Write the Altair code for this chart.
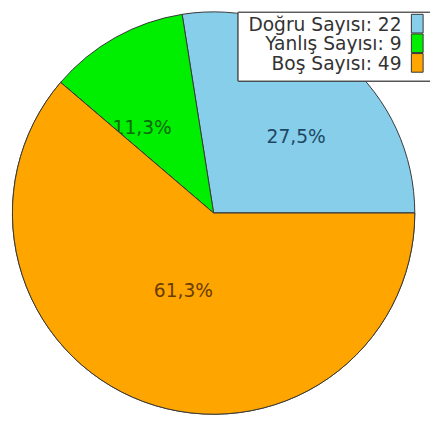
import math
import pandas as pd
import altair as alt

# ---- data ----
categories = ["Doğru Sayısı", "Yanlış Sayısı", "Boş Sayısı"]
counts = [22, 9, 49]
slice_colors = ["#87CEEB", "#00EE00", "#FFA500"]
label_colors = ["#1d4863", "#0c6a0c", "#6a3c00"]

total = sum(counts)


def pct_label(v):
    p = math.floor(v * 1000 / total + 0.5) / 10
    return f"{p:.1f}".replace(".", ",") + "%"


df = pd.DataFrame({
    "cat": categories,
    "value": counts,
    "idx": list(range(len(categories))),
    "pct": [pct_label(v) for v in counts],
    "legend": [f"{c}: {v}" for c, v in zip(categories, counts)],
})

FONT = "DejaVu Sans"
CX, CY, R = 209.5, 205, 205

theta = alt.Theta("value:Q", stack=True,
                  scale=alt.Scale(range=[math.pi / 2, math.pi / 2 + 2 * math.pi]))
order = alt.Order("idx:Q", sort="descending")
color_scale = alt.Scale(domain=categories, range=slice_colors)
label_scale = alt.Scale(domain=categories, range=label_colors)

base = alt.Chart(df).encode(theta=theta, order=order,
                            x=alt.value(CX), y=alt.value(CY))

arcs = base.mark_arc(radius=R, stroke="#383838", strokeWidth=1).encode(
    color=alt.Color("cat:N", scale=color_scale, legend=None)
)


def only(cat):
    return alt.condition(alt.datum.cat == cat, alt.value(1), alt.value(0))


arcs_top = base.mark_arc(radius=R, stroke="#383838", strokeWidth=1).encode(
    color=alt.Color("cat:N", scale=color_scale, legend=None),
    opacity=only(categories[2]),
)


def label_layer(cat, radius, dx, dy):
    return base.mark_text(radius=radius, dx=dx, dy=dy, font=FONT,
                          fontSize=19, baseline="middle").encode(
        text="pct:N",
        color=alt.Color("cat:N", scale=label_scale, legend=None),
        opacity=only(cat),
    )


t_blue = label_layer(categories[0], 108, 14, 5)
t_green = label_layer(categories[1], 108, -20, 8)
t_orange = label_layer(categories[2], 89, 0, -4)

# ---- legend ----
leg_y = alt.Y("cat:N", sort=categories, axis=None,
              scale=alt.Scale(type="point", domain=categories,
                              range=[19, 59], padding=0))

leg_box = alt.Chart(df).mark_rect(fill="white", stroke="#444444",
                                  strokeWidth=1).encode(
    x=alt.value(234.5), x2=alt.value(445),
    y=alt.value(0.5), y2=alt.value(70.5),
)

leg_text = alt.Chart(df).mark_text(align="right", baseline="alphabetic",
                                   font=FONT, fontSize=19,
                                   color="#333333").encode(
    x=alt.value(401), y=leg_y, text="legend:N"
)

leg_sym = alt.Chart(df).mark_point(
    shape="M-0.63,-1H0.63V1H-0.63Z", size=361, filled=True, opacity=1,
    stroke="#333333", strokeWidth=1, yOffset=-7,
).encode(
    x=alt.value(417), y=leg_y,
    color=alt.Color("cat:N", scale=color_scale, legend=None),
)

chart = alt.layer(
    arcs, t_blue, t_green, arcs_top, t_orange, leg_box, leg_text, leg_sym
).resolve_scale(color="independent").properties(
    width=430, height=415, autosize="none", padding=0
).configure_view(stroke=None)

chart.save("out.html", embed_options={"renderer": "svg", "actions": False})
